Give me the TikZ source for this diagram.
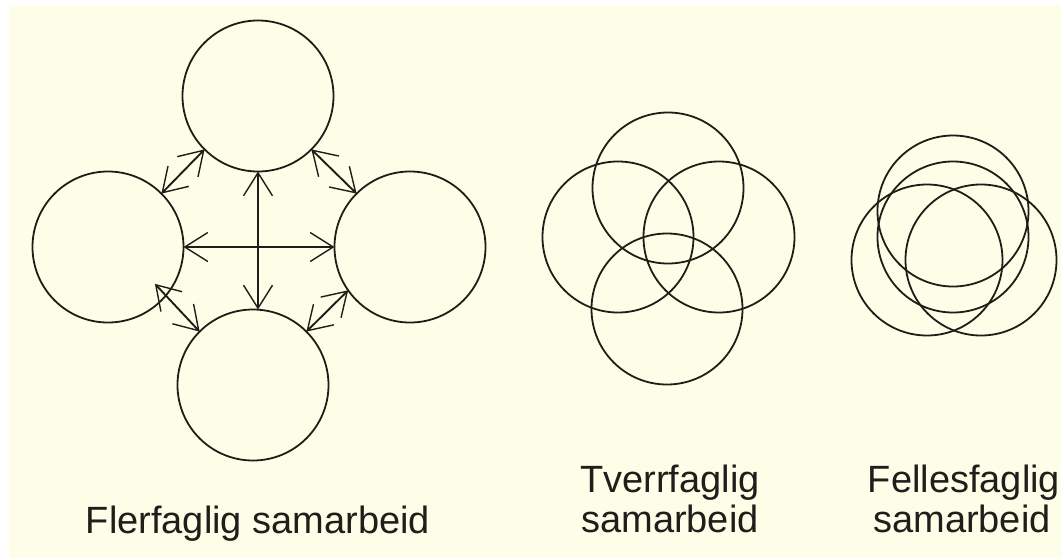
\documentclass[tikz,border=0pt]{standalone}
\usepackage{fontspec}
\setmainfont{Liberation Sans}
\usetikzlibrary{arrows.meta}
\definecolor{bg}{RGB}{254,253,232}
\definecolor{ink}{RGB}{30,30,24}
\definecolor{txt}{RGB}{30,30,26}
\begin{document}
\begin{tikzpicture}[x=1pt,y=-1pt,
  ring/.style={circle,draw=ink,line width=1.8pt,minimum size=151pt,inner sep=0pt,outer sep=0pt},
  barb/.tip={Straight Barb[length=23pt,width=29pt,line width=1.4pt]},
  link/.style={draw=ink,line width=1.4pt,barb-barb},
  dlink/.style={draw=ink,line width=1.9pt,barb-barb},
  lbl/.style={font=\fontsize{38}{42}\selectfont,text=txt,inner sep=0pt,anchor=base}
]
\useasboundingbox (0,0) rectangle (1061,558);
\fill[white] (0,0) rectangle (1061,558);
\fill[bg] (9,5) rectangle (1061,558);

% Flerfaglig
\node[ring] (ft) at (258,96) {};
\node[ring] (fl) at (108,247) {};
\node[ring] (fr) at (410,247) {};
\node[ring] (fb) at (253,385) {};
\draw[link] (fl.east) -- (fr.west);
\draw[link] (ft.south) -- (ft.south |- fb.north);
\draw[dlink] (fl.45) -- (ft.225);
\draw[dlink] (ft.-45) -- (fr.135);
\draw[dlink,shorten >=-16pt] (fb.135) -- (fl.-40);
\draw[dlink] (fr.215) -- (fb.45);

% Tverrfaglig
\node[ring] (tt) at (668,188) {};
\node[ring] (tl) at (618,237) {};
\node[ring] (tr) at (719,237) {};
\node[ring] (tb) at (667,309) {};

% Fellesfaglig
\node[ring] (ea) at (953,211) {};
\node[ring] (eb) at (953,237) {};
\node[ring] (el) at (927,260) {};
\node[ring] (er) at (981,260) {};

% captions
\node[lbl] (fcap) at (258,533) {Flerfaglig samarbeid};
\node[lbl] (tcap1) at (670,492) {Tverrfaglig};
\node[lbl] (tcap2) at (670,532) {samarbeid};
\node[lbl] (ecap1) at (964,492) {Fellesfaglig};
\node[lbl] (ecap2) at (962,532) {samarbeid};
\end{tikzpicture}
\end{document}
